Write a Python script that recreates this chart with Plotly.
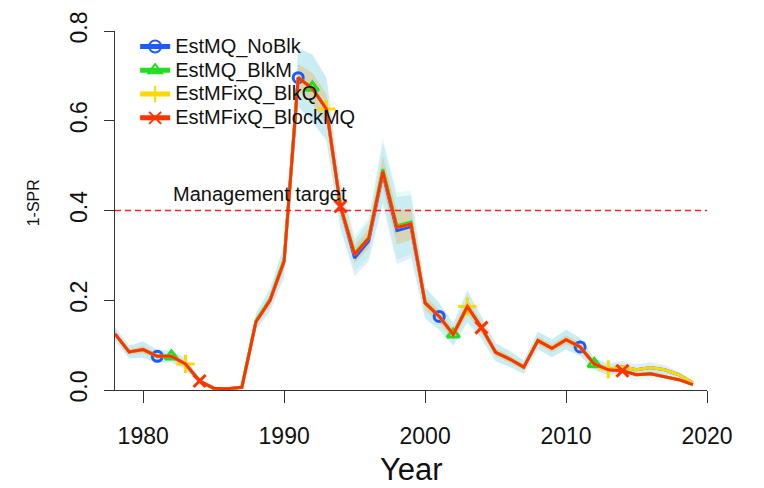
import plotly.graph_objects as go

# ---------------- data ----------------
years = list(range(1978, 2020))

est_mq_noblk = [0.125, 0.085, 0.090, 0.075, 0.075, 0.058, 0.020, 0.004, 0.003, 0.006,
                0.152, 0.200, 0.287, 0.696, 0.672, 0.626, 0.409, 0.294, 0.332, 0.482,
                0.355, 0.364, 0.194, 0.164, 0.124, 0.186, 0.139, 0.084, 0.069, 0.051,
                0.110, 0.093, 0.112, 0.096, 0.058, 0.046, 0.052, 0.045, 0.050, 0.045,
                0.034, 0.016]
est_mq_blkm = [0.125, 0.085, 0.090, 0.075, 0.075, 0.058, 0.020, 0.004, 0.003, 0.006,
               0.154, 0.202, 0.290, 0.696, 0.674, 0.626, 0.409, 0.305, 0.340, 0.492,
               0.366, 0.374, 0.195, 0.164, 0.124, 0.186, 0.139, 0.084, 0.069, 0.051,
               0.110, 0.093, 0.112, 0.096, 0.058, 0.045, 0.043, 0.034, 0.036, 0.030,
               0.023, 0.012]
est_mfixq_blkq = [0.125, 0.085, 0.090, 0.075, 0.075, 0.058, 0.020, 0.004, 0.003, 0.006,
                  0.152, 0.200, 0.287, 0.696, 0.672, 0.626, 0.409, 0.302, 0.338, 0.487,
                  0.362, 0.370, 0.194, 0.164, 0.124, 0.186, 0.139, 0.084, 0.069, 0.051,
                  0.110, 0.093, 0.112, 0.096, 0.058, 0.046, 0.052, 0.045, 0.050, 0.045,
                  0.034, 0.016]
est_mfixq_blockmq = [0.125, 0.085, 0.090, 0.075, 0.075, 0.058, 0.020, 0.004, 0.003, 0.006,
                     0.152, 0.200, 0.287, 0.696, 0.672, 0.626, 0.409, 0.302, 0.338, 0.487,
                     0.362, 0.370, 0.194, 0.164, 0.124, 0.186, 0.139, 0.084, 0.069, 0.051,
                     0.110, 0.093, 0.112, 0.096, 0.058, 0.045, 0.043, 0.034, 0.036, 0.030,
                     0.023, 0.012]

# half-widths of the uncertainty bands
wide_hw = [0.015, 0.014, 0.018, 0.014, 0.013, 0.012, 0.008, 0.003, 0.002, 0.004,
           0.018, 0.025, 0.035, 0.065, 0.075, 0.070, 0.050, 0.040, 0.045, 0.070,
           0.075, 0.070, 0.035, 0.030, 0.025, 0.035, 0.025, 0.020, 0.018, 0.015,
           0.020, 0.020, 0.022, 0.020, 0.013, 0.013, 0.013, 0.012, 0.012, 0.010,
           0.007, 0.004]
narrow_hw = [0.007, 0.006, 0.008, 0.006, 0.006, 0.005, 0.004, 0.002, 0.001, 0.002,
             0.008, 0.012, 0.016, 0.030, 0.035, 0.033, 0.024, 0.020, 0.022, 0.035,
             0.038, 0.035, 0.016, 0.014, 0.012, 0.016, 0.012, 0.009, 0.008, 0.007,
             0.009, 0.009, 0.010, 0.009, 0.006, 0.006, 0.006, 0.005, 0.005, 0.005,
             0.003, 0.002]

marker_years = {
    "EstMQ_NoBlk": [1981, 1991, 2001, 2011],
    "EstMQ_BlkM": [1982, 1992, 2002, 2012],
    "EstMFixQ_BlkQ": [1983, 1993, 2003, 2013],
    "EstMFixQ_BlockMQ": [1984, 1994, 2004, 2014],
}

target = 0.4
x_ticks = [1980, 1990, 2000, 2010, 2020]
y_ticks = [0.0, 0.2, 0.4, 0.6, 0.8]

# ---------------- style ----------------
FONT = "Liberation Sans, Arial, sans-serif"
series = [
    ("EstMQ_NoBlk", est_mq_noblk, wide_hw, "#1E5BFF", "rgba(20,120,255,0.13)", "circle-open", 10),
    ("EstMQ_BlkM", est_mq_blkm, wide_hw, "#22DD22", "rgba(40,220,160,0.12)", "triangle-up-open", 11),
    ("EstMFixQ_BlkQ", est_mfixq_blkq, narrow_hw, "#FFD800", "rgba(255,216,0,0.16)", "cross-thin-open", 13),
    ("EstMFixQ_BlockMQ", est_mfixq_blockmq, narrow_hw, "#FF3300", "rgba(255,51,0,0.10)", "x-thin-open", 12),
]

fig = go.Figure()

# bands first
for name, vals, hw, col, fcol, sym, ms in series:
    upper = [v + h for v, h in zip(vals, hw)]
    lower = [max(v - h, 0) for v, h in zip(vals, hw)]
    fig.add_trace(go.Scatter(
        x=years + years[::-1], y=upper + lower[::-1],
        fill="toself", fillcolor=fcol, line=dict(width=0),
        mode="lines", hoverinfo="skip", showlegend=False))

# lines with markers
for name, vals, hw, col, fcol, sym, ms in series:
    sizes = [ms if y in marker_years[name] else 0 for y in years]
    fig.add_trace(go.Scatter(
        x=years, y=vals, mode="lines+markers", name=f'<span style="font-size:20px">{name}</span>',
        line=dict(color=col, width=3),
        marker=dict(symbol=sym, size=sizes, color=col, opacity=1,
                    line=dict(color=col, width=3)),
        cliponaxis=False))

fig.add_hline(y=target, line=dict(color="#FF2020", width=1.5, dash="6px,4px"))
fig.add_annotation(x=1982, y=target, xref="x", yref="y", text="Management target",
                   showarrow=False, xanchor="left", yanchor="bottom", yshift=4,
                   font=dict(family=FONT, size=20, color="#111"))

# axis titles as annotations
fig.add_annotation(x=-0.1385, y=0.52, xref="paper", yref="paper", text="1-SPR",
                   showarrow=False, textangle=-90, xanchor="center", yanchor="middle",
                   font=dict(family=FONT, size=16, color="#111"))
fig.add_annotation(x=0.5, y=-0.222, xref="paper", yref="paper", text="Year",
                   showarrow=False, xanchor="center", yanchor="middle",
                   font=dict(family=FONT, size=31, color="#111"))

fig.update_layout(
    width=764, height=488,
    margin=dict(l=115, r=57, t=25, b=98),
    paper_bgcolor="white", plot_bgcolor="white",
    font=dict(family=FONT, color="#111"),
    showlegend=True,
    legend=dict(x=0.034, y=1.004, xanchor="left", yanchor="top",
                font=dict(family=FONT, size=16, color="#111"),
                bgcolor="rgba(0,0,0,0)", itemsizing="constant", itemwidth=30),
    xaxis=dict(range=[1978, 2020], tickvals=x_ticks, ticks="outside", ticklen=12,
               tickwidth=1, tickcolor="#333", showline=True, linecolor="#333", linewidth=1,
               showgrid=False, zeroline=False, tickfont=dict(family=FONT, size=23, color="#111"),
               ticklabelstandoff=13),
    yaxis=dict(range=[0, 0.8], tickvals=y_ticks, tickformat=".1f", ticks="outside", ticklen=10,
               tickwidth=1, tickcolor="#333", showline=True, linecolor="#333", linewidth=1,
               showgrid=False, zeroline=False, tickangle=-90,
               tickfont=dict(family=FONT, size=23, color="#111"), ticklabelstandoff=8),
)

fig.write_html("out.html")
